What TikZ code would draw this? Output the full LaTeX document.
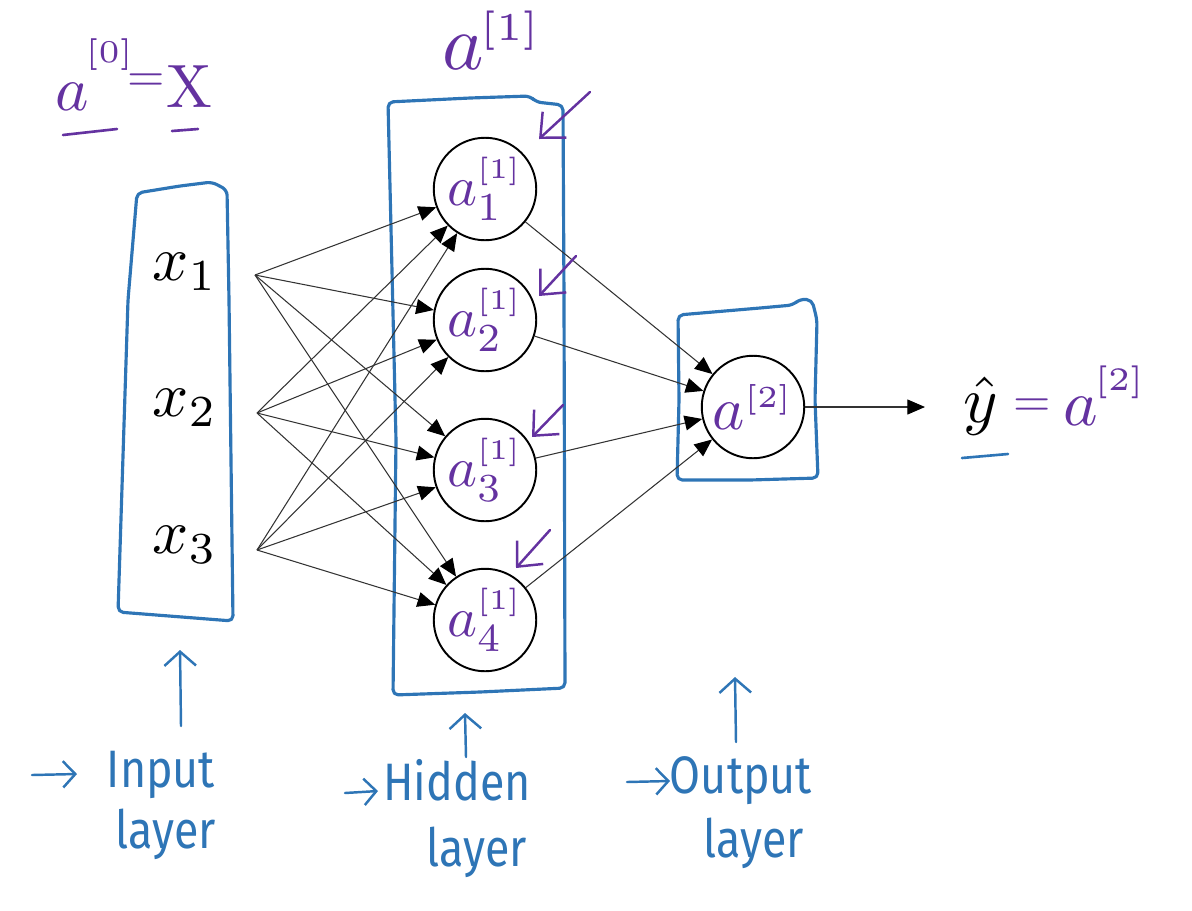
\documentclass[tikz,border=0pt]{standalone}
\usepackage{graphicx}
\usepackage{fontspec}
\newfontfamily\hand{Fira Sans}
\usetikzlibrary{arrows.meta}
\definecolor{hpurple}{RGB}{100,50,160}
\definecolor{hblue}{RGB}{46,117,182}
\newcommand\mysc[2]{\scalebox{#1}{\scalebox{2.488}{\normalsize$#2$}}}
\newcommand\hsup[2]{^{\kern-0.05em\raisebox{#1}{$\scriptscriptstyle#2$}}}
\begin{document}
\begin{tikzpicture}[x=0.02cm,y=-0.02cm,
  neuron/.style={circle,draw=black,line width=1.1pt,minimum size=2.05cm,inner sep=0pt,text=hpurple},
  conn/.style={line width=0.6pt,draw=black!80,-{Triangle[length=10pt,width=8.5pt,fill=black,color=black]}},
  layerbox/.style={draw=hblue,line width=1.8pt,line join=round,rounded corners=3pt},
  parrow/.style={draw=hpurple,line width=1.4pt,line cap=round,line join=round,-{Straight Barb[length=11pt,width=20pt]}},
  barrow/.style={draw=hblue,line width=1.4pt,line cap=round,line join=round,-{Straight Barb[length=8pt,width=18pt]}},
  plabel/.style={text=hpurple,inner sep=0pt},
  xlabel/.style={text=black,inner sep=0pt},
  blabel/.style={text=hblue,font=\hand\fontsize{30}{36}\selectfont,xscale=0.85,inner sep=0pt,anchor=base},
  uline/.style={line width=1.5pt,line cap=round}
]
\useasboundingbox (0,0) rectangle (1192,910);

% layer boxes
\draw[layerbox] (137,193) -- (180,186) -- (212,182) -- (227,190) -- (229,300) -- (233,621) -- (118,612) -- (128,300) -- cycle;
\draw[layerbox] (388,102) -- (470,98) -- (530,96) -- (536,102) -- (563,105) -- (564,300) -- (565,688) -- (480,692) -- (393,695) -- (396,440) -- cycle;
\draw[layerbox] (678,315) -- (760,308) -- (793,305) -- (800,299) -- (812,300) -- (817,320) -- (815,400) -- (818,478) -- (750,480) -- (677,480) -- (679,400) -- cycle;

% inputs
\node[xlabel] (x1) at (185,272) {\mysc{1.45}{x_1}};
\node[xlabel] (x2) at (185,408) {\mysc{1.45}{x_2}};
\node[xlabel] (x3) at (185,545) {\mysc{1.45}{x_3}};
\coordinate (s1) at (255,275);
\coordinate (s2) at (257,413);
\coordinate (s3) at (257,550);

% neurons
\node[neuron] (h1) at (485,189) {\mysc{1.3}{a^{\scriptscriptstyle[1]}_{1}}};
\node[neuron] (h2) at (485,320) {\mysc{1.3}{a^{\scriptscriptstyle[1]}_{2}}};
\node[neuron] (h3) at (485,470) {\mysc{1.3}{a^{\scriptscriptstyle[1]}_{3}}};
\node[neuron] (h4) at (485,620) {\mysc{1.3}{a^{\scriptscriptstyle[1]}_{4}}};
\node[neuron] (o) at (753,407) {\mysc{1.4}{a^{\scriptscriptstyle[2]}}};

\foreach \s in {s1,s2,s3}
  \foreach \h in {h1,h2,h3,h4}
    \draw[conn] (\s) -- (\h);
\foreach \h in {h1,h2,h3,h4}
  \draw[conn] (\h) -- (o);
\coordinate (yend) at (925,407);
\draw[conn] (o) -- (yend);

% output label
\node[xlabel,anchor=base] (yhat) at (981,422) {\mysc{1.5}{\hat{y}}};
\node[plabel] (yeqs) at (1032,408) {\mysc{1.1}{=}};
\node[plabel,anchor=base west] (ya2) at (1063,425) {\mysc{1.5}{a\hsup{0.17em}{[2]}}};
\coordinate (u3a) at (962,458);
\coordinate (u3b) at (1008,454);
\draw[uline,hblue] (u3a) -- (u3b);

% top labels
\node[plabel,anchor=base west] (a0) at (55,110) {\mysc{1.45}{a\hsup{0.38em}{[0]}}};
\node[plabel] (a0eq) at (146,83) {\mysc{1.1}{=}};
\node[plabel,anchor=base] (a0x) at (189,107) {\mysc{1.4}{\mathrm{X}}};
\coordinate (u1a) at (63,135);
\coordinate (u1b) at (117,129);
\coordinate (u2a) at (172,131);
\coordinate (u2b) at (198,129);
\draw[uline,hpurple] (u1a) -- (u1b);
\draw[uline,hpurple] (u2a) -- (u2b);
\node[plabel,anchor=base west] (a1) at (442,69) {\mysc{1.8}{a\hsup{0em}{[1]}}};

% purple pointer arrows
\coordinate (p1t) at (590,92);  \coordinate (p1h) at (539,139);
\coordinate (p2t) at (576,256); \coordinate (p2h) at (539,296);
\coordinate (p3t) at (563,405); \coordinate (p3h) at (532,437);
\coordinate (p4t) at (550,530); \coordinate (p4h) at (516,568);
\draw[parrow] (p1t) -- (p1h);
\draw[parrow] (p2t) -- (p2h);
\draw[parrow] (p3t) -- (p3h);
\draw[parrow] (p4t) -- (p4h);

% bottom labels
\coordinate (i1) at (181,726); \coordinate (i2) at (180,650);
\coordinate (hh1) at (466,757); \coordinate (hh2) at (465,713);
\coordinate (oo1) at (736,742); \coordinate (oo2) at (735,677);
\draw[barrow] (i1) -- (i2);
\draw[barrow] (hh1) -- (hh2);
\draw[barrow] (oo1) -- (oo2);
\coordinate (ia1) at (32,775); \coordinate (ia2) at (77,774);
\coordinate (ha1) at (345,793); \coordinate (ha2) at (378,791);
\coordinate (oa1) at (627,782); \coordinate (oa2) at (670,781);
\draw[barrow,-{Straight Barb[length=7pt,width=15pt]}] (ia1) -- (ia2);
\draw[barrow,-{Straight Barb[length=7pt,width=15pt]}] (ha1) -- (ha2);
\draw[barrow,-{Straight Barb[length=7pt,width=15pt]}] (oa1) -- (oa2);
\node[blabel] (lin) at (161,787) {Input};
\node[blabel] (lin2) at (166,848) {layer};
\node[blabel] (lhid) at (457,800) {Hidden};
\node[blabel] (lhid2) at (477,866) {layer};
\node[blabel] (lout) at (741,793) {Output};
\node[blabel] (lout2) at (754,857) {layer};
\end{tikzpicture}
\end{document}
